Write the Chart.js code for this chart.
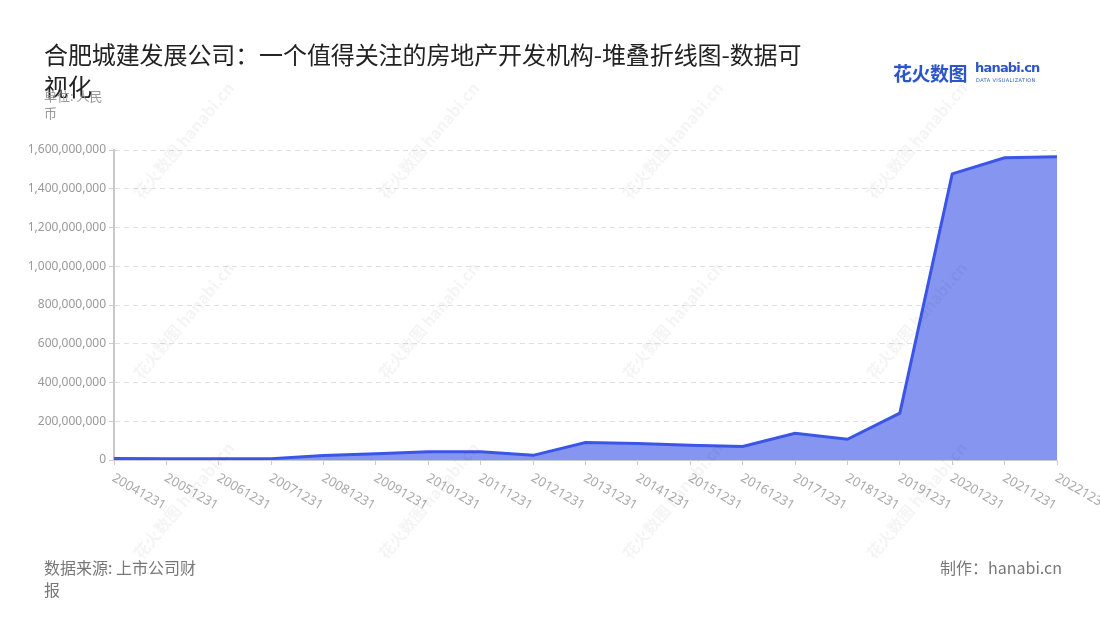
<!DOCTYPE html>
<html>
<head>
<meta charset="utf-8">
<script src="https://cdn.jsdelivr.net/npm/chart.js@4/dist/chart.umd.min.js"></script>
<style>
  body { margin: 0; background: #fff; font-family: "Noto Sans CJK SC", "Noto Sans", sans-serif; }
  #wrap { position: relative; width: 1100px; height: 620px; overflow: hidden; }
  #c { position: absolute; left: 0; top: 0; }
  .title { position: absolute; left: 44px; top: 38px; width: 775px; font-size: 24px; letter-spacing: -0.1px; line-height: 32px; color: #222; }
  .unit { position: absolute; left: 44px; top: 87px; width: 70px; font-size: 13px; line-height: 17px; color: #999; }
  .src { position: absolute; left: 44px; top: 556px; width: 158px; font-size: 16px; line-height: 22px; color: #777; }
  .by { position: absolute; right: 38px; top: 556px; font-size: 16px; line-height: 22px; color: #777; }
  .logo { position: absolute; left: 893px; top: 59px; color: #2b55c9; }
  .logo .cn { font-size: 19px; font-weight: 700; letter-spacing: -0.5px; }
  .logo .en { position: absolute; left: 82px; top: 1px; font-family: "DejaVu Sans", sans-serif; font-size: 13px; font-weight: 700; letter-spacing: -0.8px; white-space: nowrap; }
  .logo .sub { position: absolute; left: 83px; top: 18px; font-family: "DejaVu Sans", sans-serif; font-size: 5px; letter-spacing: 0.4px; white-space: nowrap; }
  .wm { position: absolute; color: rgba(0,0,0,0.045); font-size: 16px; font-weight: 700; white-space: nowrap; transform: translate(-50%, -50%) rotate(-50deg); pointer-events: none; }
</style>
</head>
<body>
<div id="wrap">
  <canvas id="c" width="1100" height="620"></canvas>
  <div class="title">合肥城建发展公司：一个值得关注的房地产开发机构-堆叠折线图-数据可视化</div>
  <div class="unit">单位: 人民币</div>
  <div class="logo"><span class="cn">花火数图</span><span class="en">hanabi.cn</span><span class="sub">DATA VISUALIZATION</span></div>
  <div class="src">数据来源: 上市公司财报</div>
  <div class="by">制作：hanabi.cn</div>
</div>
<script>
const years = ['20041231', '20051231', '20061231', '20071231', '20081231', '20091231', '20101231',
  '20111231', '20121231', '20131231', '20141231', '20151231', '20161231', '20171231', '20181231',
  '20191231', '20201231', '20211231', '20221231'];
const amounts = [8000000, 6000000, 7000000, 7000000, 23000000, 32000000, 42000000,
  42000000, 24000000, 90000000, 85000000, 76000000, 70000000, 138000000, 107000000,
  242000000, 1477000000, 1560000000, 1565000000];
const yTicks = [0, 200000000, 400000000, 600000000, 800000000, 1000000000, 1200000000, 1400000000, 1600000000];

// watermarks
const wrap = document.getElementById('wrap');
[140, 320, 500].forEach(function (wy) {
  [183, 428, 672, 916].forEach(function (wx) {
    const d = document.createElement('div');
    d.className = 'wm';
    d.style.left = wx + 'px';
    d.style.top = wy + 'px';
    d.textContent = '花火数图 hanabi.cn';
    wrap.appendChild(d);
  });
});

// rotated x labels that start at the tick and run down to the right
const xLabels = {
  id: 'xLabels',
  afterDraw(chart) {
    const ctx = chart.ctx;
    const x = chart.scales.x;
    ctx.save();
    ctx.font = '13px "Noto Sans", sans-serif';
    ctx.fillStyle = '#aaa';
    ctx.textAlign = 'left';
    ctx.textBaseline = 'middle';
    years.forEach(function (lab, i) {
      const px = x.getPixelForTick(i);
      ctx.save();
      ctx.translate(px - 1, x.top + 17);
      ctx.rotate(Math.PI / 6);
      ctx.fillText(lab, 0, 0);
      ctx.restore();
    });
    ctx.restore();
  }
};

new Chart(document.getElementById('c').getContext('2d'), {
  type: 'line',
  data: {
    labels: years,
    datasets: [{
      data: amounts,
      borderColor: '#3b55e6',
      backgroundColor: 'rgba(134,150,240,1)',
      borderWidth: 3,
      fill: 'origin',
      pointRadius: 0,
      tension: 0
    }]
  },
  options: {
    responsive: false,
    animation: false,
    layout: { padding: { left: 0, top: 150, right: 43, bottom: 0 } },
    plugins: { legend: { display: false }, tooltip: { enabled: false } },
    scales: {
      x: {
        offset: false,
        grid: { drawOnChartArea: false, color: '#ccc', tickLength: 5, lineWidth: 1 },
        border: { color: '#ccc', width: 1 },
        ticks: { display: false },
        afterFit(s) { s.height = 160; }
      },
      y: {
        min: 0,
        max: 1600000000,
        afterBuildTicks(s) { s.ticks = yTicks.map(v => ({ value: v })); },
        grid: { color: '#e0e0e0', tickColor: '#ccc', tickLength: 5, lineWidth: 1 },
        border: { color: '#c8c8c8', width: 2, dash: [5, 4] },
        ticks: {
          color: '#999',
          font: { size: 12, family: '"Noto Sans", sans-serif' },
          padding: 3,
          callback: v => v.toLocaleString('en-US')
        },
        afterFit(s) { s.width = 114; }
      }
    }
  },
  plugins: [xLabels]
});
</script>
</body>
</html>
